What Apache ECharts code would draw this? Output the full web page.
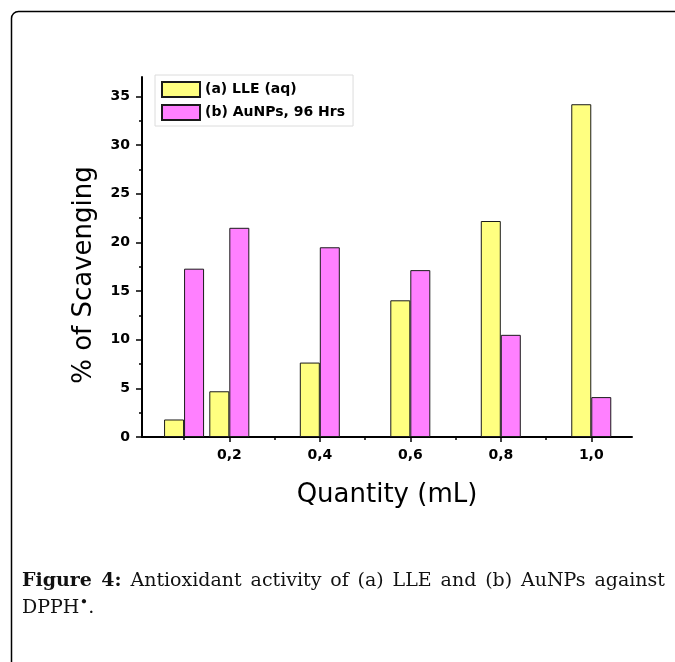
<!DOCTYPE html>
<html>
<head>
<meta charset="utf-8">
<script src="https://cdn.jsdelivr.net/npm/echarts@6/dist/echarts.min.js"></script>
<style>
  html, body { margin: 0; padding: 0; background: #fff; }
  #wrap { position: relative; width: 675px; height: 662px; overflow: hidden; }
  #chart { position: absolute; left: 0; top: 0; width: 675px; height: 662px; }
  #caption { position: absolute; left: 22px; top: 566px; width: 643px;
    font-family: "DejaVu Serif", "Liberation Serif", serif; font-size: 19px;
    line-height: 26.7px; color: #111; }
  #caption .l1 { text-align: justify; text-align-last: justify; white-space: nowrap; }
  #caption b { font-weight: bold; }
  #caption sup { font-size: 15px; vertical-align: 6px; line-height: 0; }
</style>
</head>
<body>
<div id="wrap">
  <div id="chart"></div>
  <div id="caption">
    <div class="l1"><b>Figure 4:</b> Antioxidant activity of (a) LLE and (b) AuNPs against</div>
    <div>DPPH<sup>•</sup>.</div>
  </div>
</div>
<script>
// ---- data ----
const quantities = [0.1, 0.2, 0.4, 0.6, 0.8, 1.0];           // mL
const lleValues = [1.8, 4.7, 7.65, 14.05, 22.2, 34.2];        // (a) LLE (aq)
const aunpValues = [17.3, 21.5, 19.5, 17.15, 10.5, 4.1];      // (b) AuNPs, 96 Hrs
const xMajorTicks = [0.2, 0.4, 0.6, 0.8, 1.0];
const xMinorTicks = [0.1, 0.3, 0.5, 0.7, 0.9];
const yMajorTicks = [0, 5, 10, 15, 20, 25, 30, 35];
const yMinorTicks = [2.5, 7.5, 12.5, 17.5, 22.5, 27.5, 32.5];
const seriesNames = ['(a) LLE (aq)', '(b) AuNPs, 96 Hrs'];

const chart = echarts.init(document.getElementById('chart'), null, { renderer: 'canvas' });
const sans = 'DejaVu Sans';
const X_MIN = 0.007, X_MAX = 1.09, Y_MIN = 0, Y_MAX = 37;

function pairs(xs, ys) { return xs.map((x, i) => [x, ys[i]]); }
const fmtX = v => Number(v).toFixed(1).replace('.', ',');

const option = {
  animation: false,
  backgroundColor: '#fff',
  grid: { left: 142, right: 43, top: 77, bottom: 225, containLabel: false },
  legend: {
    orient: 'vertical',
    left: 155, top: 75,
    padding: [6, 8, 5, 6],
    itemGap: 6,
    itemWidth: 38, itemHeight: 15,
    icon: 'rect',
    backgroundColor: '#fff',
    borderColor: '#dcdcdc', borderWidth: 1,
    textStyle: { fontFamily: sans, fontWeight: 'bold', fontSize: 14, color: '#000' },
    data: seriesNames
  },
  xAxis: [
    {
      type: 'value', min: X_MIN, max: X_MAX,
      name: 'Quantity (mL)', nameLocation: 'middle', nameGap: 45,
      nameTextStyle: { fontFamily: sans, fontSize: 26, color: '#000' },
      axisLine: { show: true, lineStyle: { color: '#000', width: 2 } },
      axisTick: { show: true, customValues: xMajorTicks, length: 5, inside: false,
                  lineStyle: { color: '#000', width: 1.5 } },
      axisLabel: { customValues: xMajorTicks, formatter: fmtX, margin: 11,
                   fontFamily: sans, fontWeight: 'bold', fontSize: 14, color: '#000' },
      splitLine: { show: false }
    },
    {
      type: 'value', min: X_MIN, max: X_MAX, position: 'bottom',
      axisLine: { show: false },
      axisTick: { show: true, customValues: xMinorTicks, length: 3,
                  lineStyle: { color: '#000', width: 1.5 } },
      axisLabel: { show: false },
      splitLine: { show: false }
    }
  ],
  yAxis: [
    {
      type: 'value', min: Y_MIN, max: Y_MAX,
      axisLine: { show: true, lineStyle: { color: '#000', width: 2 } },
      axisTick: { show: true, customValues: yMajorTicks, length: 6,
                  lineStyle: { color: '#000', width: 1.5 } },
      axisLabel: { customValues: yMajorTicks, margin: 12,
                   fontFamily: sans, fontWeight: 'bold', fontSize: 14, color: '#000' },
      splitLine: { show: false }
    },
    {
      type: 'value', min: Y_MIN, max: Y_MAX, position: 'left',
      axisLine: { show: false },
      axisTick: { show: true, customValues: yMinorTicks, length: 3,
                  lineStyle: { color: '#000', width: 1.5 } },
      axisLabel: { show: false },
      splitLine: { show: false }
    }
  ],
  series: [
    {
      name: seriesNames[0], type: 'bar', xAxisIndex: 0, yAxisIndex: 0,
      barWidth: 20, barGap: '0%',
      itemStyle: { color: '#FFFF80', borderColor: '#1a1a1a', borderWidth: 1 },
      data: pairs(quantities, lleValues)
    },
    {
      name: seriesNames[1], type: 'bar', xAxisIndex: 0, yAxisIndex: 0,
      barWidth: 20, barGap: '0%',
      itemStyle: { color: '#FF80FF', borderColor: '#1a1a1a', borderWidth: 1 },
      data: pairs(quantities, aunpValues)
    }
  ],
  graphic: [
    {
      type: 'rect', silent: true, z: 100,
      shape: { x: 11.5, y: 11.5, width: 800, height: 800, r: 7 },
      style: { fill: null, stroke: '#000', lineWidth: 1.5 }
    },
    {
      type: 'text', silent: true,
      x: 84, y: 275, rotation: Math.PI / 2,
      style: { text: '% of Scavenging', fontFamily: sans, fontSize: 26, fill: '#000',
               align: 'center', verticalAlign: 'middle' }
    }
  ]
};
chart.setOption(option);
</script>
</body>
</html>
